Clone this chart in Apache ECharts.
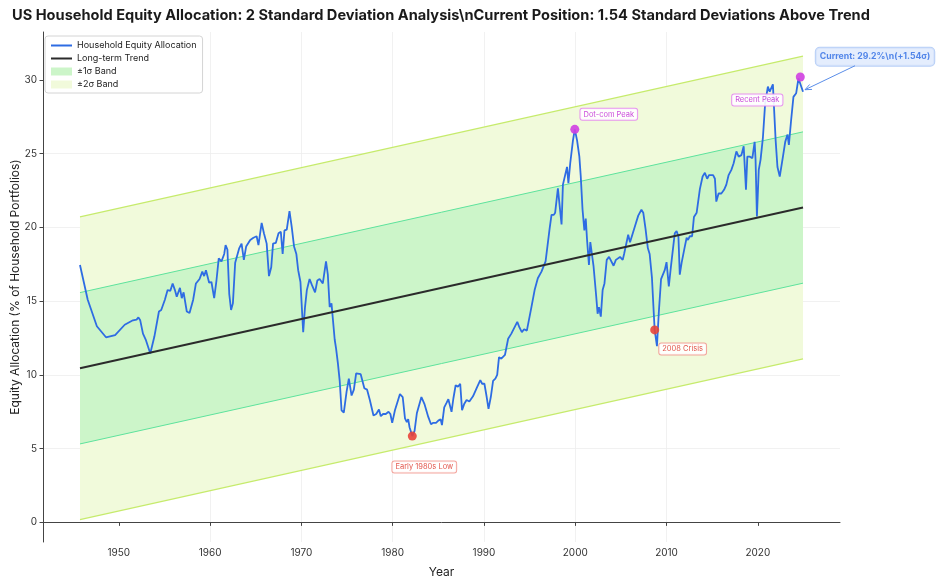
<!DOCTYPE html>
<html>
<head>
<meta charset="utf-8">
<title>US Household Equity Allocation</title>
<script src="https://cdn.jsdelivr.net/npm/echarts@6/dist/echarts.min.js"></script>
<style>
  html, body { margin: 0; padding: 0; background: #fff; }
  #chart { width: 937px; height: 582px; }
</style>
</head>
<body>
<div id="chart"></div>
<script>
'use strict';

// quarterly-ish readings of the equity share (% of household portfolios)
var allocation = [
  [1945.75,17.45],[1946.6,15.1],[1947.6,13.3],[1948.6,12.55],[1949.6,12.7],
  [1950.65,13.4],[1951.55,13.7],[1951.95,13.75],[1952.15,13.9],[1952.35,13.7],[1952.65,12.8],[1952.95,12.4],[1953.45,11.45],[1953.9,12.6],[1954.4,14.3],[1954.65,14.4],
  [1955.05,15.1],[1955.35,15.75],[1955.65,15.7],[1955.9,16.2],[1956.15,15.75],[1956.35,15.3],[1956.7,15.9],[1956.9,15.2],[1957.1,15.6],[1957.45,14.3],[1957.75,14.2],[1958.15,15.1],[1958.45,16.2],[1958.85,16.5],[1959.15,17.0],[1959.35,16.7],[1959.55,17.1],[1959.9,16.25],
  [1960.15,16.3],[1960.45,15.2],[1960.7,16.4],[1960.95,17.9],[1961.25,17.7],[1961.55,18.2],[1961.7,18.8],[1961.9,18.5],[1962.1,15.5],[1962.3,14.4],[1962.5,14.85],[1962.75,17.6],[1962.95,17.7],[1963.2,18.6],[1963.45,18.9],[1963.7,17.8],[1963.95,18.7],[1964.4,19.15],[1964.75,19.3],
  [1965.1,19.4],[1965.3,18.8],[1965.65,20.3],[1965.9,19.6],[1966.2,18.9],[1966.45,16.7],[1966.7,17.3],[1966.9,18.9],[1967.2,18.95],[1967.5,19.6],[1967.75,19.7],[1967.95,18.2],[1968.15,19.8],[1968.4,19.85],[1968.7,21.1],[1968.95,20.0],[1969.2,18.7],[1969.45,18.2],[1969.65,17.1],[1969.9,16.3],
  [1970.2,12.9],[1970.4,14.6],[1970.6,15.75],[1970.9,16.5],[1971.15,16.1],[1971.5,15.6],[1971.75,16.4],[1972.0,16.5],[1972.35,16.2],[1972.7,17.7],[1972.9,16.8],[1973.1,14.6],[1973.3,14.85],[1973.45,14.9],[1973.65,12.4],[1973.8,11.8],[1974.0,10.8],[1974.2,9.6],[1974.4,7.6],[1974.65,7.45],[1974.95,8.85],
  [1975.2,9.75],[1975.5,8.6],[1975.75,9.0],[1976.0,10.1],[1976.5,10.05],[1976.7,10.0],[1976.9,9.1],[1977.2,9.0],[1977.5,8.3],[1977.9,7.25],[1978.2,7.35],[1978.5,7.65],[1978.7,7.2],[1978.95,7.35],[1979.25,7.35],[1979.55,7.5],[1979.75,7.35],[1979.95,6.75],
  [1980.25,7.6],[1980.8,8.7],[1981.1,8.5],[1981.35,7.05],[1981.55,6.8],[1981.7,7.0],[1981.85,6.45],[1982.15,5.85],[1982.4,6.2],[1982.65,7.4],[1983.15,8.5],[1983.5,8.0],[1983.9,7.15],[1984.2,6.65],[1984.45,6.75],[1984.75,6.75],
  [1985.0,6.9],[1985.25,7.0],[1985.4,6.6],[1985.65,7.8],[1985.9,8.1],[1986.1,8.35],[1986.45,7.5],[1986.65,8.4],[1986.9,9.3],[1987.15,9.2],[1987.4,9.4],[1987.6,7.6],[1987.85,8.05],[1988.1,8.3],[1988.4,8.2],[1988.8,8.55],[1989.2,9.1],[1989.6,9.65],[1989.8,9.4],
  [1990.05,9.4],[1990.3,8.5],[1990.5,7.7],[1990.75,8.5],[1991.0,9.6],[1991.25,9.75],[1991.45,10.0],[1991.65,11.2],[1991.9,11.1],[1992.3,11.35],[1992.65,12.45],[1993.0,12.8],[1993.2,12.9],[1993.65,13.6],[1993.9,13.2],[1994.15,12.9],[1994.4,13.1],[1994.7,13.0],
  [1995.2,14.6],[1995.55,15.75],[1995.9,16.55],[1996.3,17.0],[1996.5,17.1],[1996.75,17.7],[1996.95,17.75],[1997.2,19.95],[1997.4,20.85],[1997.65,20.85],[1997.8,21.0],[1998.1,22.65],[1998.3,22.65],[1998.5,20.2],[1998.65,22.9],[1998.85,22.95],[1999.1,24.1],[1999.25,23.0],[1999.45,24.35],[1999.75,25.9],[1999.95,26.65],
  [2000.2,25.9],[2000.45,24.8],[2000.6,23.5],[2000.8,21.2],[2001.0,19.8],[2001.15,20.6],[2001.3,19.1],[2001.5,17.45],[2001.65,19.0],[2001.85,19.0],[2002.0,17.4],[2002.3,15.3],[2002.45,14.15],[2002.6,14.6],[2002.8,13.95],[2003.0,15.75],[2003.2,16.2],[2003.45,17.8],[2003.7,18.0],[2003.9,17.9],[2004.2,17.4],[2004.45,17.8],[2004.65,17.7],[2004.9,18.0],
  [2005.2,17.8],[2005.35,18.2],[2005.8,19.5],[2006.0,19.0],[2006.2,19.1],[2006.65,20.3],[2006.9,20.8],[2007.25,21.2],[2007.45,21.0],[2007.7,19.9],[2007.95,18.6],[2008.15,18.2],[2008.4,16.6],[2008.6,14.2],[2008.7,13.05],[2008.95,11.95],[2009.15,14.2],[2009.4,16.5],[2009.8,17.1],
  [2010.0,17.65],[2010.25,16.0],[2010.5,17.45],[2010.9,19.6],[2011.1,19.75],[2011.3,19.4],[2011.45,16.8],[2011.65,17.6],[2012.0,18.7],[2012.2,19.3],[2012.35,19.15],[2012.55,19.4],[2012.8,19.4],[2013.0,20.7],[2013.3,21.0],[2013.65,22.6],[2013.95,23.45],[2014.2,23.7],[2014.45,23.3],[2014.65,23.55],
  [2015.1,23.55],[2015.3,23.3],[2015.45,21.75],[2015.7,22.3],[2016.0,22.3],[2016.3,22.55],[2016.55,22.9],[2016.8,23.55],[2017.1,23.9],[2017.35,24.35],[2017.65,25.15],[2017.9,24.8],[2018.2,24.9],[2018.45,25.5],[2018.7,22.55],[2018.85,24.8],[2019.1,24.8],[2019.4,24.7],[2019.65,25.8],[2019.75,24.6],[2019.9,20.75],
  [2020.1,23.9],[2020.3,24.6],[2020.55,26.05],[2020.8,28.4],[2021.1,29.55],[2021.3,29.2],[2021.5,29.2],[2021.65,29.7],[2021.75,28.4],[2021.95,25.9],[2022.15,24.1],[2022.4,23.45],[2022.75,24.8],[2023.0,25.8],[2023.25,26.3],[2023.4,25.6],[2023.65,27.3],[2023.9,28.85],[2024.2,29.1],[2024.45,30.1],[2024.65,30.2],[2024.95,29.2]
];

var xTicks = [1950, 1960, 1970, 1980, 1990, 2000, 2010, 2020];
var yTicks = [0, 5, 10, 15, 20, 25, 30];

// fitted trend (end points) and its standard deviation
var trendYears = [1945.75, 2024.95];
var trendValues = [10.45, 21.35];
var sigma = 5.13;

var peakPoints = [[1999.95, 26.65], [2024.65, 30.2]];
var peakNames = ['Dot-com Peak', 'Recent Peak'];
var lowPoints = [[1982.15, 5.85], [2008.7, 13.05]];
var lowNames = ['Early 1980s Low', '2008 Crisis'];
var currentPoint = [2024.95, 29.2];
var currentText = 'Current: 29.2%\\n(+1.54σ)';

var titleText = 'US Household Equity Allocation: 2 Standard Deviation Analysis\\nCurrent Position: 1.54 Standard Deviations Above Trend';

function trendLine(k) {
	return trendYears.map(function (x, i) { return [x, trendValues[i] + k * sigma]; });
}

function band(k) {
	return function (params, api) {
		var pts = [];
		for (var i = 0; i < trendYears.length; i++) {
			pts.push(api.coord([trendYears[i], trendValues[i] + k * sigma]));
		}
		for (var j = trendYears.length - 1; j >= 0; j--) {
			pts.push(api.coord([trendYears[j], trendValues[j] - k * sigma]));
		}
		return { type: 'polygon', shape: { points: pts }, style: { fill: api.visual('color') } };
	};
}

function edge(k, color, width) {
	return {
		name: 'edge' + k, type: 'line', data: trendLine(k), symbol: 'none', z: 2, silent: true,
		lineStyle: { color: color, width: width }, itemStyle: { color: color }
	};
}

function markers(points, names, color, textColor, borderColor, offsets) {
	return {
		type: 'scatter', z: 8, silent: true, symbolSize: 9,
		itemStyle: { color: color, opacity: 0.9 },
		data: points.map(function (p, i) {
			return {
				value: p,
				label: {
					show: true, position: 'inside', offset: offsets[i], formatter: names[i],
					fontSize: 7.5, color: textColor, backgroundColor: '#fff',
					borderColor: borderColor, borderWidth: 1, borderRadius: 2, padding: [2, 3, 1, 3]
				}
			};
		})
	};
}

var chart = echarts.init(document.getElementById('chart'));
var axisFont = { fontSize: 10, color: '#333' };

var option = {
	animation: false,
	textStyle: { fontFamily: 'Inter, "DejaVu Sans", sans-serif' },
	title: {
		text: titleText, left: 7, top: 3,
		textStyle: { fontSize: 14.6, fontWeight: 'bold', color: '#1a1a1a' }
	},
	legend: {
		orient: 'vertical', left: 45, top: 36,
		itemWidth: 21, itemHeight: 8, itemGap: 4,
		padding: [5, 6, 4, 5],
		backgroundColor: '#fff', borderColor: '#d4d4d4', borderWidth: 1, borderRadius: 3,
		textStyle: { fontSize: 9, color: '#222' },
		data: [
			{ name: 'Household Equity Allocation', itemStyle: { opacity: 0 } },
			{ name: 'Long-term Trend', itemStyle: { opacity: 0 } },
			{ name: '±1σ Band', icon: 'rect' },
			{ name: '±2σ Band', icon: 'rect' }
		]
	},
	grid: { left: 43, right: 97, top: 32, bottom: 40, outerBoundsMode: 'none', containLabel: false },
	xAxis: {
		type: 'value', min: 1941.7, max: 2029.0, splitNumber: 9,
		name: 'Year', nameLocation: 'middle', nameGap: 24,
		nameTextStyle: { fontSize: 12, color: '#222' },
		axisLine: { lineStyle: { color: '#444', width: 1 } },
		axisTick: { length: 3.5, customValues: xTicks, lineStyle: { color: '#444' } },
		axisLabel: Object.assign({ customValues: xTicks, margin: 6, formatter: function (v) { return String(v); } }, axisFont),
		splitLine: { show: true, showMinLine: false, showMaxLine: false, lineStyle: { color: '#eeeeee', width: 0.8 } }
	},
	yAxis: {
		type: 'value', min: -1.33, max: 33.25,
		name: 'Equity Allocation (% of Household Portfolios)', nameLocation: 'middle', nameGap: 22,
		nameMoveOverlap: false,
		nameTextStyle: { fontSize: 12, color: '#222' },
		axisLine: { show: true, lineStyle: { color: '#444', width: 1 } },
		axisTick: { show: true, length: 3.5, customValues: yTicks, lineStyle: { color: '#444' } },
		axisLabel: Object.assign({ customValues: yTicks, margin: 6, formatter: function (v) { return String(v); } }, axisFont),
		splitLine: { show: true, showMinLine: false, showMaxLine: false, lineStyle: { color: '#eeeeee', width: 0.8 } }
	},
	series: [
		{
			name: '±2σ Band', type: 'custom', z: 1, silent: true,
			itemStyle: { color: '#f1fadb' },
			data: [[trendYears[0], trendValues[0]]],
			renderItem: band(2)
		},
		{
			name: '±1σ Band', type: 'custom', z: 1, silent: true,
			itemStyle: { color: '#ccf5c9' },
			data: [[trendYears[0], trendValues[0]]],
			renderItem: band(1)
		},
		edge(2, '#c6eb6c', 1.2),
		edge(-2, '#c6eb6c', 1.2),
		edge(1, '#5ee39d', 1),
		edge(-1, '#5ee39d', 1),
		{
			name: 'Household Equity Allocation', type: 'line', data: allocation,
			symbol: 'none', z: 3, silent: true,
			lineStyle: { color: '#2e6ce3', width: 1.8 }, itemStyle: { color: '#2e6ce3' }
		},
		{
			name: 'Long-term Trend', type: 'line', data: trendLine(0),
			symbol: 'none', z: 4, silent: true,
			lineStyle: { color: '#2b2b2b', width: 2 }, itemStyle: { color: '#2b2b2b' }
		},
		markers(peakPoints, peakNames, '#d03fe2', '#c536d8', '#e58af0', [[34, -15], [-43, 23]]),
		markers(lowPoints, lowNames, '#e8443a', '#e0453a', '#f29a92', [[12, 31], [28, 19]]),
		{
			type: 'scatter', z: 9, silent: true, symbolSize: 0.1,
			itemStyle: { color: 'transparent' },
			data: [currentPoint],
			label: {
				show: true, position: 'inside', offset: [72, -35], formatter: currentText,
				fontSize: 8.7, fontWeight: 'bold', color: '#2d6be4',
				backgroundColor: '#dde8fc', borderColor: '#a6c3f4', borderWidth: 1, borderRadius: 4,
				padding: [5, 4, 4, 4]
			}
		}
	]
};
chart.setOption(option);

// arrow from the "Current" box to the last reading
var head = chart.convertToPixel({ gridIndex: 0 }, currentPoint);
head = [head[0] + 2, head[1] - 2];
var tail = [head[0] + 50, head[1] - 24];
var ang = Math.atan2(tail[1] - head[1], tail[0] - head[0]);
var wing = function (d) {
	return [head[0] + 7 * Math.cos(ang + d), head[1] + 7 * Math.sin(ang + d)];
};
chart.setOption({
	graphic: [
		{ type: 'line', z: 10, silent: true, shape: { x1: tail[0], y1: tail[1], x2: head[0], y2: head[1] },
		  style: { stroke: '#5a8de8', lineWidth: 1 } },
		{ type: 'polyline', z: 10, silent: true, shape: { points: [wing(0.4), head, wing(-0.4)] },
		  style: { stroke: '#5a8de8', lineWidth: 1, fill: null } }
	]
});

window.addEventListener('resize', function () {
	chart.resize();
});
</script>
</body>
</html>
